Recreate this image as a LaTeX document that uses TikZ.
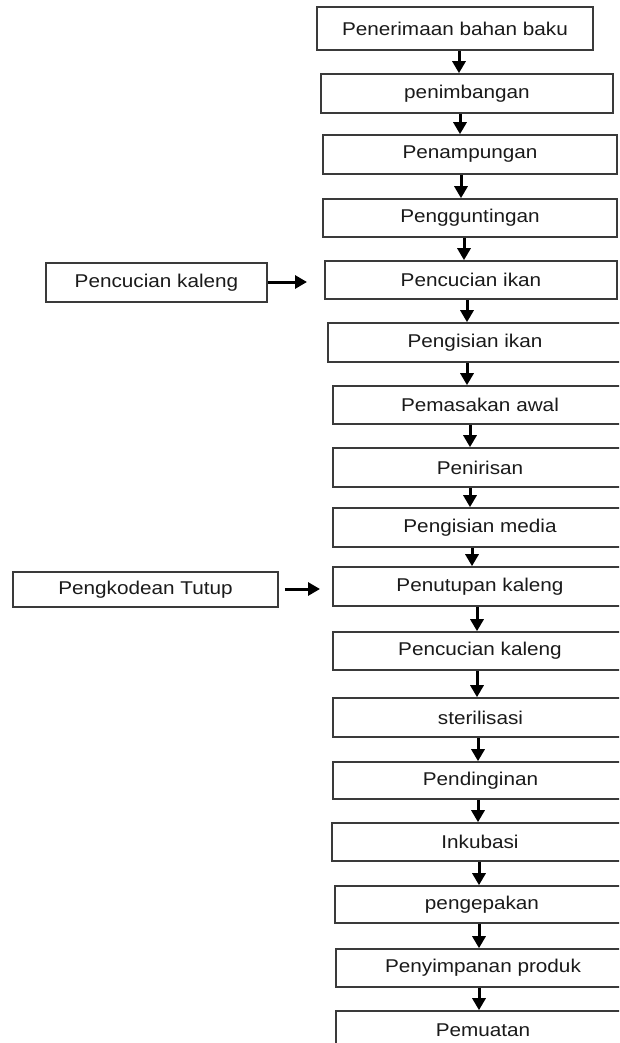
\documentclass[tikz,border=0pt]{standalone}
\usepackage{fontspec}
\setmainfont[FakeStretch=1.12]{Liberation Sans}
\usetikzlibrary{arrows.meta}
\definecolor{boxline}{HTML}{3a3a3a}
\definecolor{txt}{HTML}{1a1a1a}
\begin{document}
\begin{tikzpicture}[x=1pt,y=-1pt,
  stepbox/.style={draw=boxline,line width=1.6pt,fill=white,inner sep=0pt,
    text=txt,font=\fontsize{18.5}{20}\selectfont,minimum height=39pt},
  arr/.style={draw=black,line width=3pt,-{Triangle[length=12pt,width=13pt]}}]
\useasboundingbox (0,0) rectangle (619,1043);
\fill[white] (0,0) rectangle (619,1043);
\clip (0,0) rectangle (619,1043);
% main column
\node[stepbox,minimum width=276pt,minimum height=43pt] (n1) at (455,28.5) {Penerimaan bahan baku};
\node[stepbox,minimum width=292pt] (n2) at (467,93.5) {penimbangan};
\node[stepbox,minimum width=294pt] (n3) at (470,154.5) {Penampungan};
\node[stepbox,minimum width=294pt,minimum height=38pt] (n4) at (470,218) {Pengguntingan};
\node[stepbox,minimum width=292pt,minimum height=38pt] (n5) at (471,280) {Pencucian ikan};
\node[stepbox,minimum width=294pt] (n6) at (475,342.5) {Pengisian ikan};
\node[stepbox,minimum width=294pt,minimum height=38pt] (n7) at (480,405) {Pemasakan awal};
\node[stepbox,minimum width=294pt] (n8) at (480,467.5) {Penirisan};
\node[stepbox,minimum width=294pt] (n9) at (480,527.5) {Pengisian media};
\node[stepbox,minimum width=294pt] (n10) at (480,586.5) {Penutupan kaleng};
\node[stepbox,minimum width=294pt,minimum height=38pt] (n11) at (480,651) {Pencucian kaleng};
\node[stepbox,minimum width=295pt] (n12) at (480.5,717.5) {sterilisasi};
\node[stepbox,minimum width=295pt,minimum height=37pt] (n13) at (480.5,780.5) {Pendinginan};
\node[stepbox,minimum width=296pt,minimum height=38pt] (n14) at (480,842) {Inkubasi};
\node[stepbox,minimum width=294pt,minimum height=37pt] (n15) at (482,904.5) {pengepakan};
\node[stepbox,minimum width=294pt,minimum height=38pt] (n16) at (483,968) {Penyimpanan produk};
\node[stepbox,minimum width=294pt] (n17) at (483,1030.5) {Pemuatan};
% side inputs
\node[stepbox,minimum width=221pt] (sa) at (156.5,282.5) {Pencucian kaleng};
\node[stepbox,minimum width=265pt,minimum height=35pt] (sb) at (145.5,589.5) {Pengkodean Tutup};
\coordinate (ea) at (307,282);
\coordinate (eb) at (320,589);
% vertical connectors
\draw[arr] (n1.south -| 459,0) -- (n2.north -| 459,0);
\draw[arr] (n2.south -| 460,0) -- (n3.north -| 460,0);
\draw[arr] (n3.south -| 461,0) -- (n4.north -| 461,0);
\draw[arr] (n4.south -| 464,0) -- (n5.north -| 464,0);
\draw[arr] (n5.south -| 467,0) -- (n6.north -| 467,0);
\draw[arr] (n6.south -| 467,0) -- (n7.north -| 467,0);
\draw[arr] (n7.south -| 470,0) -- (n8.north -| 470,0);
\draw[arr] (n8.south -| 470,0) -- (n9.north -| 470,0);
\draw[arr] (n9.south -| 472,0) -- (n10.north -| 472,0);
\draw[arr] (n10.south -| 477,0) -- (n11.north -| 477,0);
\draw[arr] (n11.south -| 477,0) -- (n12.north -| 477,0);
\draw[arr] (n12.south -| 478,0) -- (n13.north -| 478,0);
\draw[arr] (n13.south -| 478,0) -- (n14.north -| 478,0);
\draw[arr] (n14.south -| 479,0) -- (n15.north -| 479,0);
\draw[arr] (n15.south -| 479,0) -- (n16.north -| 479,0);
\draw[arr] (n16.south -| 479,0) -- (n17.north -| 479,0);
% horizontal connectors
\draw[arr] (sa.east |- ea) -- (ea);
\draw[arr] ([xshift=6pt]sb.east |- eb) -- (eb);
\end{tikzpicture}
\end{document}
